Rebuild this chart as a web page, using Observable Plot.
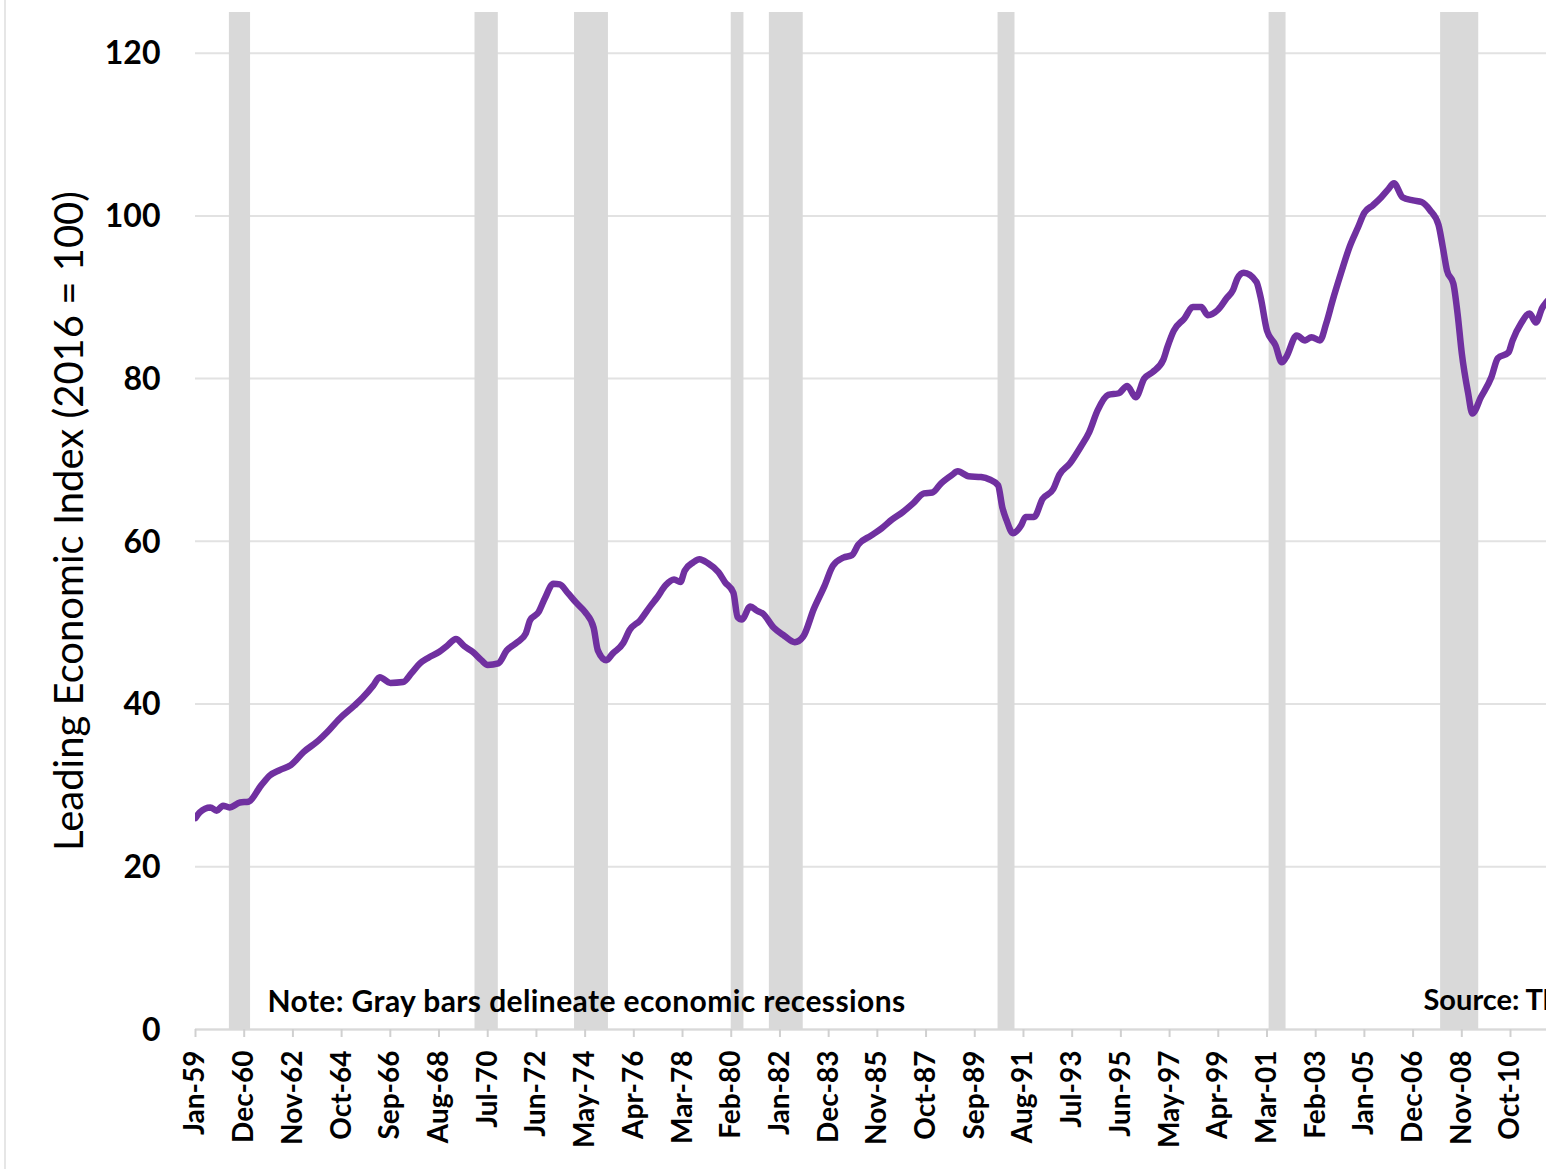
<!DOCTYPE html>
<html><head><meta charset="utf-8">
<script src="https://cdn.jsdelivr.net/npm/d3@7"></script>
<script src="https://cdn.jsdelivr.net/npm/@observablehq/plot@0.6"></script>
<style>
html,body{margin:0;padding:0;background:#fff;overflow:hidden;}
#wrap{position:relative;width:1546px;height:1169px;overflow:hidden;}
#frame{position:absolute;left:4px;top:0;width:2px;height:1169px;background:#e6e6e6;}
#wrap svg{position:absolute;left:0;top:0;}
</style></head><body><div id="wrap"><div id="frame"></div></div>
<script>
const months = [
"1959-01","1959-03","1959-08","1959-11","1960-02","1960-05","1960-10","1961-02","1961-08","1961-12",
"1962-05","1962-10","1963-04","1963-11","1964-03","1964-09","1965-04","1965-08","1966-01","1966-04",
"1966-09","1967-03","1967-07","1967-11","1968-03","1968-08","1968-12","1969-04","1969-08","1969-12",
"1970-04","1970-07","1970-12","1971-04","1971-09","1972-01","1972-03","1972-07","1972-10","1973-02",
"1973-05","1973-09","1974-01","1974-05","1974-09","1974-11","1975-03","1975-06","1975-11","1976-02",
"1976-07","1976-12","1977-03","1977-07","1977-11","1978-02","1978-04","1978-08","1978-11","1979-03",
"1979-08","1979-11","1980-03","1980-05","1980-07","1980-11","1981-02","1981-05","1981-10","1982-03",
"1982-08","1982-12","1983-05","1983-10","1984-02","1984-07","1984-11","1985-02","1985-08","1986-01",
"1986-06","1986-11","1987-04","1987-09","1988-01","1988-05","1988-10","1989-01","1989-06","1989-12",
"1990-04","1990-08","1990-10","1990-12","1991-03","1991-07","1991-09","1992-01","1992-05","1992-10",
"1993-01","1993-06","1993-11","1994-03","1994-07","1994-12","1995-05","1995-09","1996-01","1996-05",
"1996-09","1997-02","1997-04","1997-07","1997-12","1998-04","1998-08","1998-11","1999-04","1999-08",
"1999-11","2000-01","2000-04","2000-10","2000-12","2001-03","2001-07","2001-10","2001-12","2002-05",
"2002-09","2002-12","2003-04","2003-07","2003-10","2004-02","2004-06","2004-10","2005-01","2005-05",
"2005-09","2005-12","2006-03","2006-07","2006-12","2007-04","2007-08","2007-12","2008-02","2008-04",
"2008-07","2008-09","2008-11","2009-02","2009-04","2009-08","2010-01","2010-04","2010-09","2010-11",
"2011-03","2011-07","2011-10","2012-01","2012-03","2012-05"
];
const lei = [
26.0,26.7,27.3,26.9,27.5,27.3,27.9,28.0,30.0,31.2,
31.9,32.5,34.1,35.5,36.5,38.2,39.8,40.8,42.3,43.3,
42.6,42.7,43.8,45.0,45.7,46.4,47.2,48.0,47.1,46.4,
45.4,44.8,45.0,46.6,47.6,48.7,50.3,51.3,53.0,54.8,
54.7,53.6,52.4,51.3,49.4,46.6,45.4,46.2,47.5,49.1,
50.3,52.1,53.1,54.6,55.3,55.0,56.4,57.4,57.8,57.3,
56.2,55.0,53.7,50.7,50.4,52.0,51.5,51.1,49.4,48.4,
47.6,48.3,51.7,54.5,57.0,58.0,58.3,59.6,60.7,61.6,
62.7,63.6,64.7,65.9,66.0,67.1,68.1,68.6,68.0,67.9,
67.6,66.9,64.2,62.6,61.0,62.0,63.0,63.0,65.2,66.4,
68.2,69.6,71.6,73.4,76.1,78.0,78.2,79.1,77.7,80.0,
80.8,82.3,83.9,85.9,87.4,88.8,88.8,87.8,88.5,89.9,
90.9,92.3,93.0,91.9,90.0,85.9,84.1,82.0,82.6,85.3,
84.7,85.1,84.7,86.8,89.6,93.0,96.2,98.6,100.4,101.3,
102.3,103.2,104.0,102.3,101.9,101.7,100.7,98.9,96.2,93.3,
91.7,88.0,83.1,78.2,75.7,77.7,80.2,82.5,83.2,84.7,
86.8,88.0,86.9,88.7,89.4,90.0
];
// Recession months: first month after the peak through the trough month
const recessionStart = ["1960-05","1970-01","1973-12","1980-02","1981-08","1990-08","2001-04","2008-01"];
const recessionEnd   = ["1961-02","1970-11","1975-03","1980-07","1982-11","1991-03","2001-11","2009-06"];

const xTickLabels = ["Jan-59","Dec-60","Nov-62","Oct-64","Sep-66","Aug-68","Jul-70","Jun-72","May-74","Apr-76",
"Mar-78","Feb-80","Jan-82","Dec-83","Nov-85","Oct-87","Sep-89","Aug-91","Jul-93","Jun-95",
"May-97","Apr-99","Mar-01","Feb-03","Jan-05","Dec-06","Nov-08","Oct-10"];
const yTicks = [0,20,40,60,80,100,120];
const yTitle = "Leading Economic Index (2016 = 100)";
const noteText = "Note: Gray bars delineate economic recessions";
const sourceText = "Source: The Conference Board";

const monthNames = ["Jan","Feb","Mar","Apr","May","Jun","Jul","Aug","Sep","Oct","Nov","Dec"];
const idxOf = s => { const [y, m] = s.split("-").map(Number); return (y - 1959) * 12 + (m - 1); };
const labelIdx = l => { const [mon, yy] = l.split("-"); const y = +yy + (+yy < 50 ? 2000 : 1900); return (y - 1959) * 12 + monthNames.indexOf(mon); };

const series = months.map((m, i) => ({t: idxOf(m), v: lei[i]}));
const recessions = recessionStart.map((s, i) => ({a: idxOf(s), b: idxOf(recessionEnd[i]) + 1}));
const xTicks = xTickLabels.map(labelIdx);
const labelByIdx = new Map(xTicks.map((t, i) => [t, xTickLabels[i]]));

const chart = Plot.plot({
  width: 1546, height: 1169,
  marginLeft: 195, marginRight: 0, marginTop: 12, marginBottom: 140,
  style: {fontFamily: "Lato, 'Open Sans', sans-serif", background: "transparent", overflow: "visible", color: "#000"},
  x: {type: "linear", domain: [0, 638], axis: null},
  y: {domain: [0, 125], axis: null},
  marks: [
    Plot.ruleY(yTicks, {stroke: "#e2e2e2", strokeWidth: 2}),
    Plot.rect(recessions, {x1: "a", x2: "b", fill: "#d9d9d9"}),
    Plot.ruleY([0], {stroke: "#d9d9d9", strokeWidth: 2}),
    Plot.axisX({ticks: xTicks, tickFormat: d => labelByIdx.get(d), tickRotate: -90, tickSize: 8, tickPadding: 13,
      stroke: "#d0d0d0", strokeWidth: 2, fontSize: 28, fontWeight: "bold", fill: "#000", label: null}),
    Plot.axisY({ticks: yTicks, tickSize: 0, tickPadding: 35, fontSize: 32, fontWeight: "bold", fill: "#000",
      tickFormat: d => String(d), label: null, dy: 1}),
    Plot.line(series, {x: "t", y: "v", curve: "monotone-x", stroke: "#7030A0", strokeWidth: 6.5, strokeLinejoin: "round", strokeLinecap: "round", clip: true}),
    Plot.text([yTitle], {frameAnchor: "left", dx: -125, rotate: -90, textAnchor: "middle", lineAnchor: "middle", fontSize: 40, fill: "#000"}),
    Plot.text([noteText], {frameAnchor: "bottom-left", dx: 72, dy: -27, textAnchor: "start", lineAnchor: "middle", fontSize: 30, fontWeight: "bold", fill: "#000"}),
    Plot.text([sourceText], {frameAnchor: "bottom-left", dx: 1228, dy: -29, textAnchor: "start", lineAnchor: "middle", fontSize: 29, fontWeight: "bold", fill: "#000"})
  ]
});
d3.select(chart).selectAll("text").filter(function () { return this.textContent === noteText; }).attr("letter-spacing", "0.4px");
document.getElementById("wrap").appendChild(chart);
</script></body></html>
